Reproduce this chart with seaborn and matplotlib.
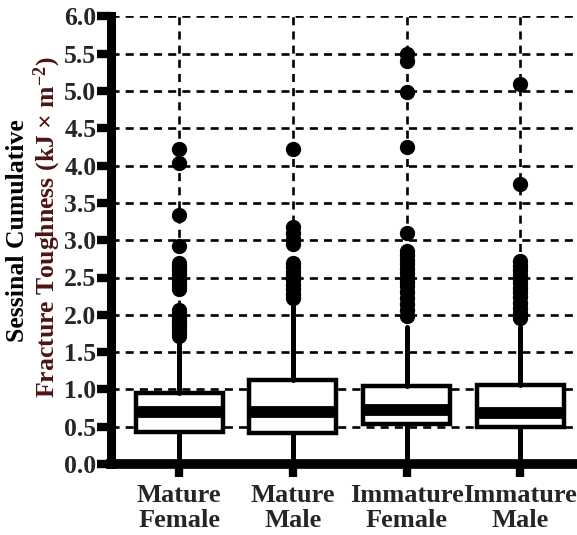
import matplotlib
matplotlib.use("Agg")
import matplotlib.pyplot as plt
import seaborn as sns

# ---- data ----
categories = ["Mature\nFemale", "Mature\nMale", "Immature\nFemale", "Immature\nMale"]
whisker_low = [0.0, 0.0, 0.0, 0.0]
q1_vals = [0.43, 0.41, 0.54, 0.49]
median_vals = [0.70, 0.70, 0.72, 0.69]
q3_vals = [0.95, 1.12, 1.05, 1.06]
whisker_high = [1.64, 2.14, 1.83, 1.84]

fliers_mature_female = [4.22, 4.04, 3.34, 2.92, 2.70, 2.65, 2.60, 2.55, 2.50, 2.45,
                        2.40, 2.34, 2.07, 2.02, 1.97, 1.92, 1.87, 1.82, 1.77, 1.72]
fliers_mature_male = [4.22, 3.18, 3.10, 3.02, 2.95, 2.70, 2.64, 2.58, 2.52, 2.46,
                      2.40, 2.34, 2.28, 2.23]
fliers_immature_female = [5.50, 5.40, 4.99, 4.25, 3.10, 2.85, 2.80, 2.74, 2.68, 2.62,
                          2.56, 2.50, 2.44, 2.38, 2.30, 2.22, 2.14, 2.06, 1.99]
fliers_immature_male = [5.10, 3.75, 2.72, 2.66, 2.60, 2.54, 2.48, 2.42, 2.36, 2.30,
                        2.24, 2.16, 2.09, 2.02, 1.96]
fliers_all = [fliers_mature_female, fliers_mature_male,
              fliers_immature_female, fliers_immature_male]

y_ticks = [0.0, 0.5, 1.0, 1.5, 2.0, 2.5, 3.0, 3.5, 4.0, 4.5, 5.0, 5.5, 6.0]
y_label_line1 = "Sessinal Cumulative"
y_label_line2 = "Fracture Toughness (kJ \u00d7 m$^{-2}$)"

# ---- style ----
sns.set_style("white")
plt.rcParams["font.family"] = ["Liberation Serif", "DejaVu Serif"]
plt.rcParams["font.weight"] = "bold"
plt.rcParams["mathtext.fontset"] = "custom"
plt.rcParams["mathtext.rm"] = "Liberation Serif:bold"
plt.rcParams["mathtext.bf"] = "Liberation Serif:bold"
plt.rcParams["mathtext.it"] = "Liberation Serif:italic:bold"
plt.rcParams["mathtext.default"] = "rm"
plt.rcParams["lines.scale_dashes"] = False

W, H = 577, 535
fig = plt.figure(figsize=(W / 100, H / 100), dpi=100)
ax = fig.add_axes([111 / W, (H - 464) / H, (W - 111) / W, (464 - 16.4) / H])

stats = []
for i in range(len(categories)):
    stats.append(dict(label=categories[i], whislo=whisker_low[i], q1=q1_vals[i],
                      med=median_vals[i], q3=q3_vals[i], whishi=whisker_high[i],
                      fliers=fliers_all[i]))

positions = list(range(len(categories)))
ax.bxp(stats, positions=positions, widths=0.765, patch_artist=True, showcaps=False,
       boxprops=dict(facecolor="white", edgecolor="black", linewidth=3.2),
       medianprops=dict(color="black", linewidth=8.5, solid_capstyle="butt"),
       whiskerprops=dict(color="black", linewidth=3.6),
       flierprops=dict(marker="o", markerfacecolor="black", markeredgecolor="black",
                       markersize=10, linestyle="none"))

ax.set_xlim(-0.60, 3.50)
ax.set_ylim(0, 6.0)
ax.set_yticks(y_ticks)
ax.set_yticklabels([f"{v:.1f}" for v in y_ticks], fontsize=18.5, fontweight="bold")
ax.set_xticks(positions)
ax.set_xticklabels(categories, fontsize=19, fontweight="bold", linespacing=1.12)

ax.set_axisbelow(True)
ax.grid(True, axis="both", color="black", linewidth=1.9, linestyle=(0, (5.8, 4.4)))

sns.despine(ax=ax, top=True, right=True)
ax.spines["left"].set_linewidth(6.5)
ax.spines["bottom"].set_linewidth(7)
ax.spines["left"].set_color("black")
ax.spines["bottom"].set_color("black")
ax.tick_params(axis="y", length=10, width=6, pad=0.5, color="black", direction="out", left=True)
ax.tick_params(axis="x", length=9.4, width=6, pad=5, color="black", direction="out", bottom=True)

fig.text(18 / W, (H - 231) / H, y_label_line1, rotation=90, ha="center", va="center",
         fontsize=18.5, fontweight="bold", color="black")
fig.text(47 / W, (H - 227) / H, y_label_line2, rotation=90, ha="center", va="center",
         fontsize=18.5, fontweight="bold", color="#4d1414")

fig.savefig("out.png", dpi=100)
